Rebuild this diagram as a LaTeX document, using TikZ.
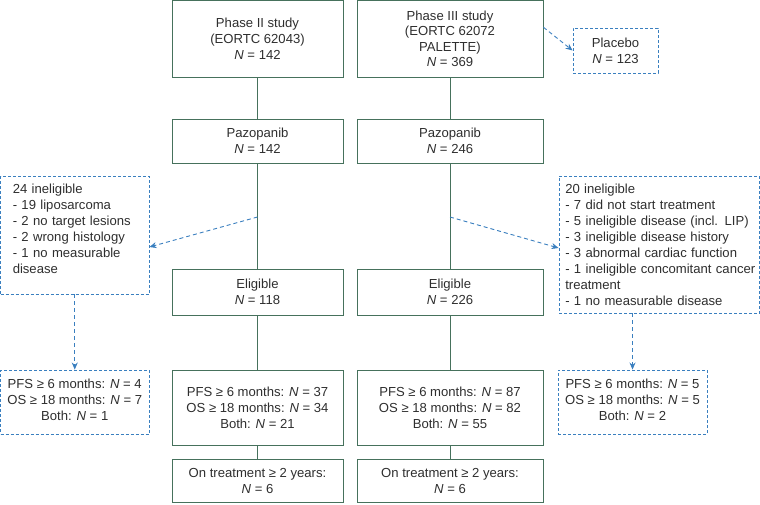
\documentclass[tikz,border=0pt]{standalone}
\usepackage{fontspec}
\setmainfont{Liberation Sans}
\usetikzlibrary{arrows.meta}
\definecolor{solidc}{HTML}{46715C}
\definecolor{dashc}{HTML}{3A7FBF}
\definecolor{txtc}{HTML}{2E2E2E}
\newcommand{\NN}{\textit{N}}
\tikzset{
  solidbox/.style={draw=solidc, line width=0.9pt, inner sep=0pt, align=center, text=txtc,
    font=\fontsize{13.1}{16}\selectfont},
  dashbox/.style={draw=dashc, line width=0.9pt, dash pattern=on 3pt off 2pt, inner sep=0pt, text=txtc,
    font=\fontsize{13.1}{16}\selectfont},
  solidline/.style={draw=solidc, line width=0.9pt},
  dashline/.style={draw=dashc, line width=0.9pt, dash pattern=on 4pt off 3pt, -{Stealth[length=7pt,width=6pt]}},
}
\begin{document}
\begin{tikzpicture}[x=1pt,y=-1pt]
\useasboundingbox (0,0) rectangle (760,504);
% left column
\node[solidbox, minimum width=171pt, minimum height=76.5pt] (p2) at (257.5,38.75)
  {Phase II study\\(EORTC 62043)\\\NN\ = 142};
\node[solidbox, minimum width=171pt, minimum height=44pt] (pz2) at (257.5,141)
  {Pazopanib\\\NN\ = 142};
\node[solidbox, minimum width=171pt, minimum height=46pt] (el2) at (257.5,292)
  {Eligible\\\NN\ = 118};
\node[solidbox, minimum width=171pt, minimum height=75pt] (pf2) at (257.5,407.5)
  {PFS ≥ 6 months: \NN\ = 37\\OS ≥ 18 months: \NN\ = 34\\Both: \NN\ = 21};
\node[solidbox, minimum width=171pt, minimum height=43pt] (tr2) at (257.5,480.5)
  {On treatment ≥ 2 years:\\\NN\ = 6};
% right column
\node[solidbox, minimum width=186pt, minimum height=76.5pt, font=\fontsize{13.1}{15.5}\selectfont] (p3) at (450,38.75)
  {Phase III study\\(EORTC 62072\\PALETTE)\\\NN\ = 369};
\node[solidbox, minimum width=186pt, minimum height=44pt] (pz3) at (450,141)
  {Pazopanib\\\NN\ = 246};
\node[solidbox, minimum width=186pt, minimum height=46pt] (el3) at (450,292)
  {Eligible\\\NN\ = 226};
\node[solidbox, minimum width=186pt, minimum height=75pt] (pf3) at (450,407.5)
  {PFS ≥ 6 months: \NN\ = 87\\OS ≥ 18 months: \NN\ = 82\\Both: \NN\ = 55};
\node[solidbox, minimum width=186pt, minimum height=43pt] (tr3) at (450,480.5)
  {On treatment ≥ 2 years:\\\NN\ = 6};
% dashed boxes
\node[dashbox, align=center, minimum width=85pt, minimum height=45pt] (plac) at (615.5,50.5)
  {Placebo\\\NN\ = 123};
\node[dashbox, align=left, minimum width=148.5pt, minimum height=118pt, text width=124pt] (inL) at (74.75,235)
  {24 ineligible\\- 19 liposarcoma\\- 2 no target lesions\\- 2 wrong histology\\- 1 no measurable\\disease\\[-4pt]\mbox{}};
\node[dashbox, align=left, minimum width=200.5pt, minimum height=137pt, text width=188pt] (inR) at (659.25,244.5)
  {20 ineligible\\- 7 did not start treatment\\- 5 ineligible disease (incl. LIP)\\- 3 ineligible disease history\\- 3 abnormal cardiac function\\\mbox{- 1 ineligible concomitant cancer}\\treatment\\- 1 no measurable disease};
\node[dashbox, align=center, minimum width=148.5pt, minimum height=64pt] (pfL) at (74.75,402)
  {PFS ≥ 6 months: \NN\ = 4\\OS ≥ 18 months: \NN\ = 7\\Both: \NN\ = 1\\[-12pt]\mbox{}};
\node[dashbox, align=center, minimum width=149pt, minimum height=64pt] (pfR) at (632.5,402)
  {PFS ≥ 6 months: \NN\ = 5\\OS ≥ 18 months: \NN\ = 5\\Both: \NN\ = 2\\[-12pt]\mbox{}};
% solid connectors
\draw[solidline] (p2) -- (pz2);
\draw[solidline] (pz2) -- (el2);
\draw[solidline] (el2) -- (pf2);
\draw[solidline] (pf2) -- (tr2);
\draw[solidline] (p3) -- (pz3);
\draw[solidline] (pz3) -- (el3);
\draw[solidline] (el3) -- (pf3);
\draw[solidline] (pf3) -- (tr3);
% dashed connectors
\coordinate (mL) at (257.5,217);
\coordinate (mR) at (450,217);
\draw[dashline] (mL) -- ([yshift=-12pt]inL.east);
\draw[dashline] (mR) -- ([yshift=-3.5pt]inR.west);
\draw[dashline] ([yshift=11.5pt]p3.east) -- (plac.west);
\draw[dashline] (inL.south) -- (pfL.north);
\draw[dashline] (inR.south -| pfR.north) -- (pfR.north);
\end{tikzpicture}
\end{document}
